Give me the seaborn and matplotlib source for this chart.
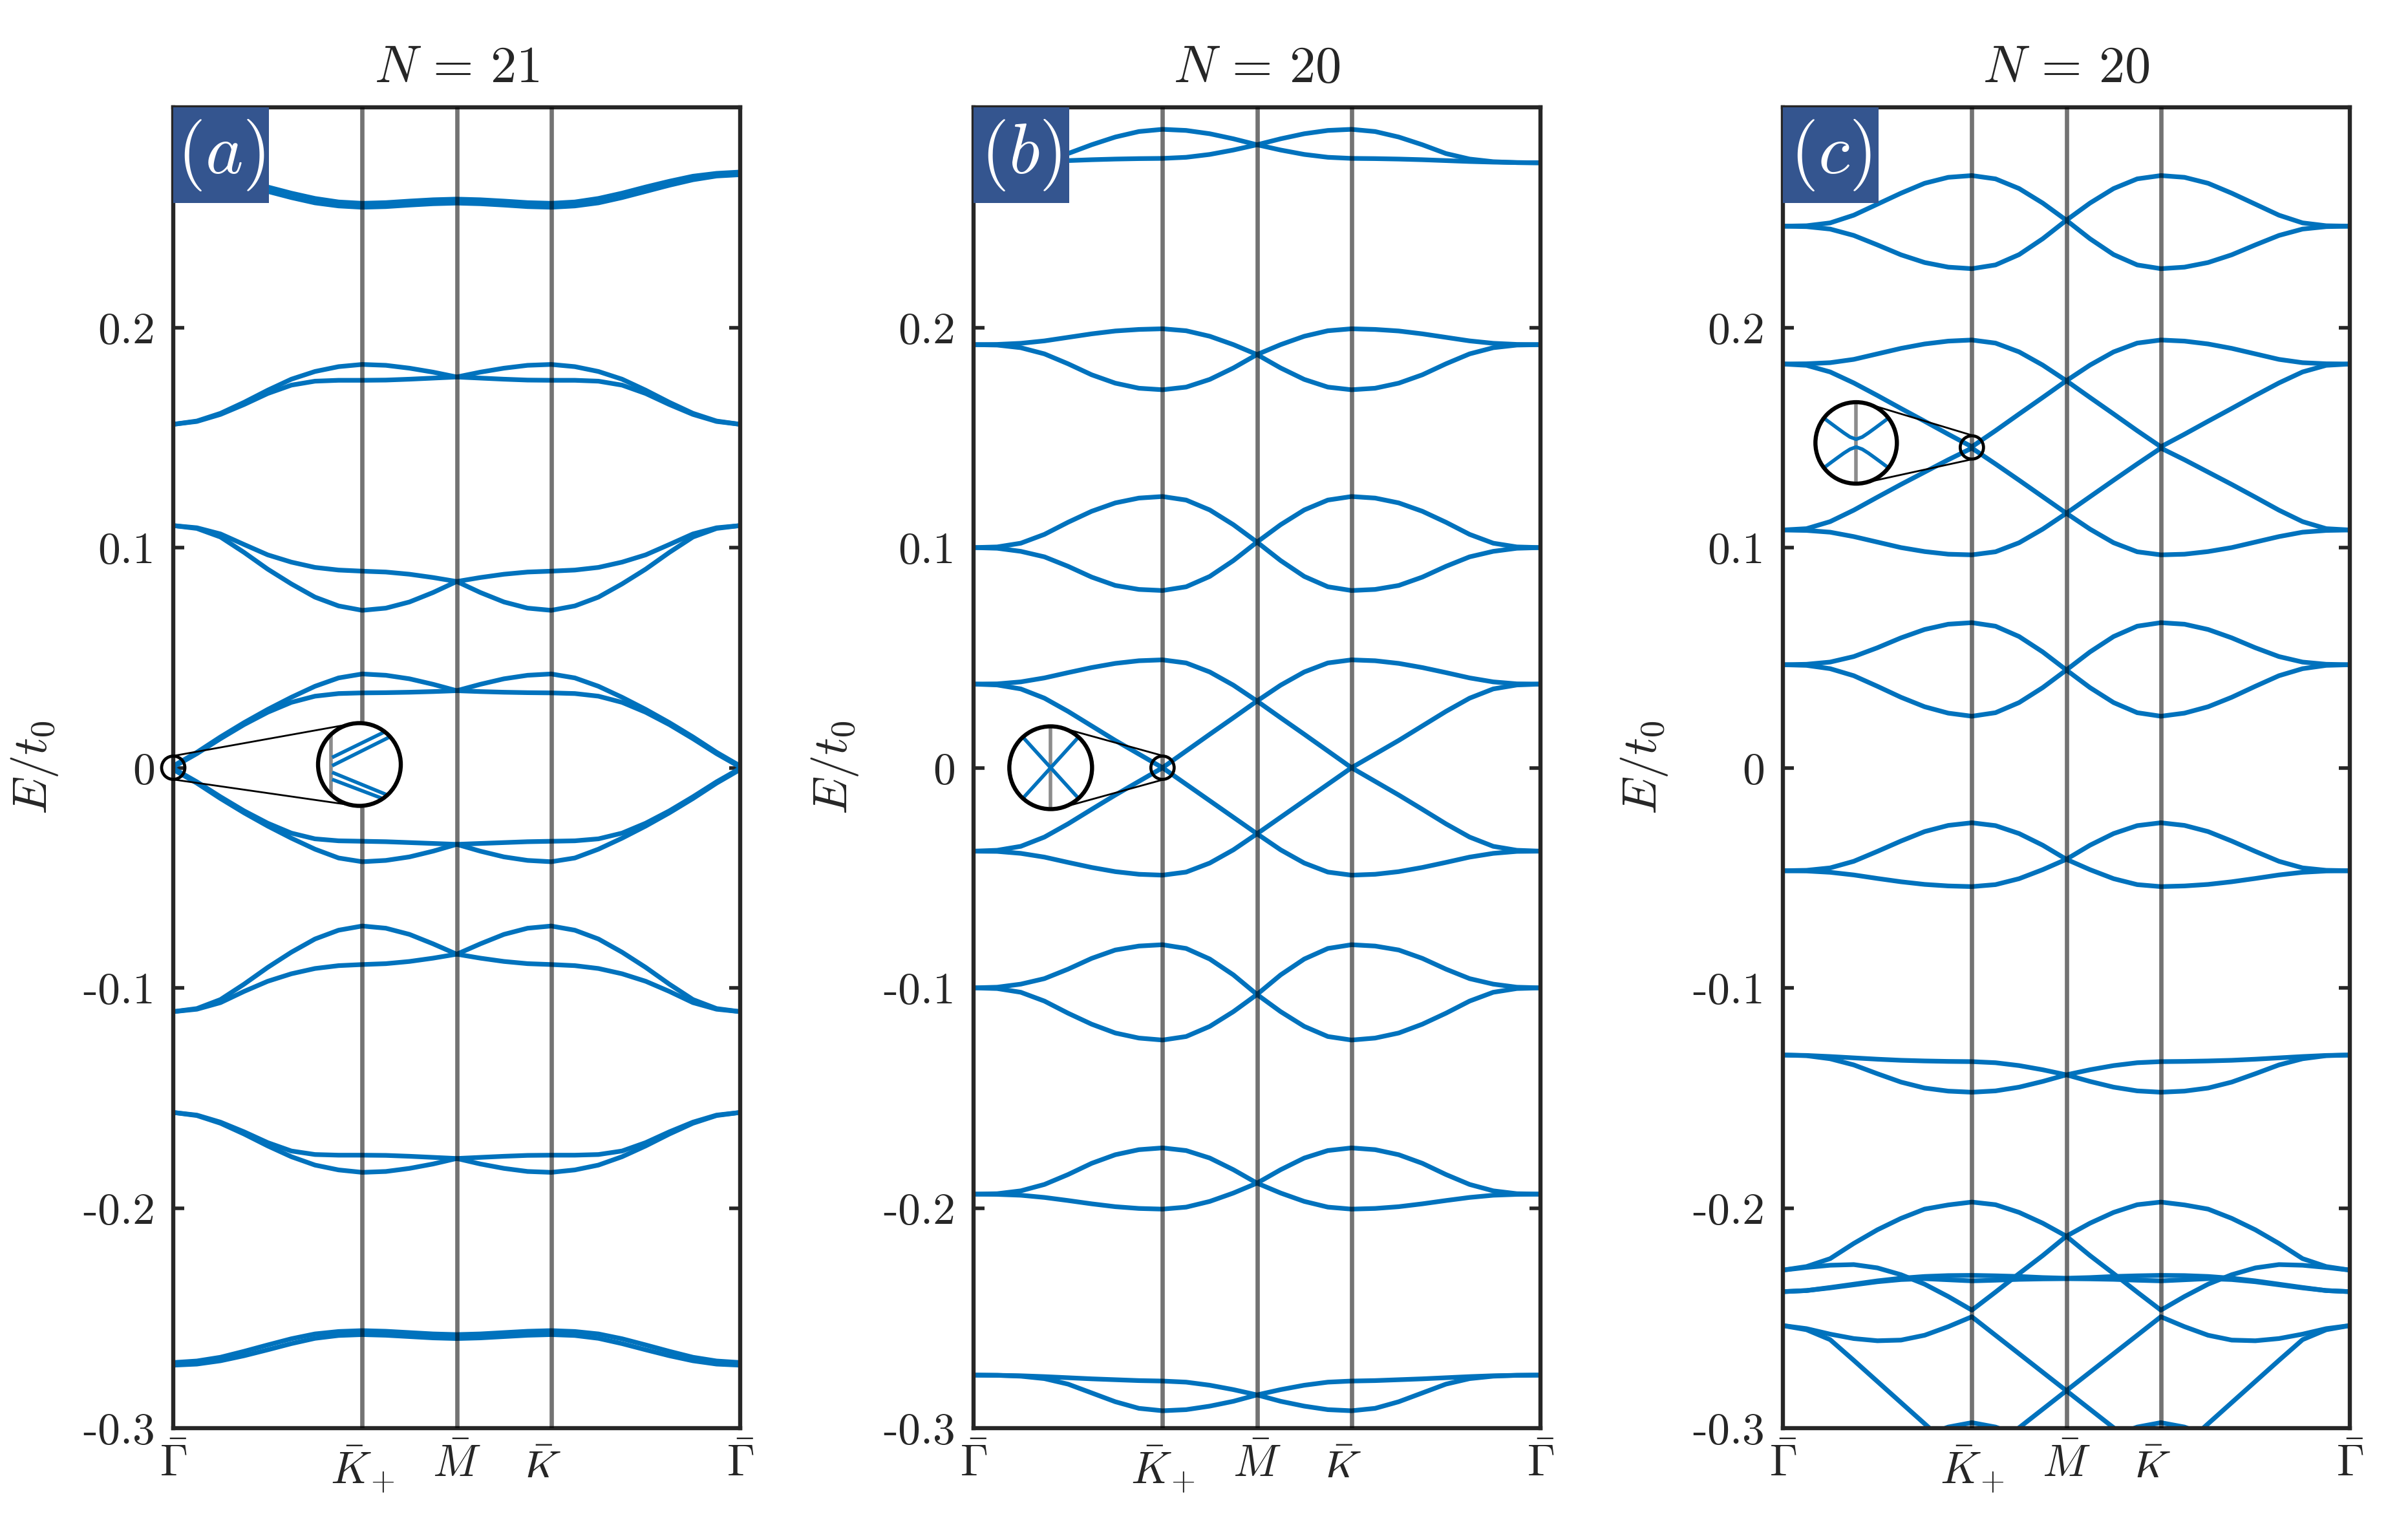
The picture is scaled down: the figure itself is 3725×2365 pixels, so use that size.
import numpy as np
import pandas as pd
import matplotlib
matplotlib.use("Agg")
import matplotlib.pyplot as plt
import seaborn as sns
from matplotlib.patches import Circle, Ellipse, Rectangle
from matplotlib.lines import Line2D

sns.set_style("white")
plt.rcParams["font.family"] = ["cmr10", "DejaVu Sans"]
plt.rcParams["mathtext.fontset"] = "cm"
plt.rcParams["axes.unicode_minus"] = True

# ---------------- data ----------------
# k-path sampling: Gamma (0) - K+ (1/3) - M (1/2) - K- (2/3) - Gamma (1)
K_PATH = np.linspace(0.0, 1.0, 25)
K_TICKS = [0.0, 1 / 3, 0.5, 2 / 3, 1.0]
K_LABELS = [r"$\bar{\Gamma}$", r"$\bar{K}_{+}$", r"$\bar{M}$", r"$\bar{K}_{-}$", r"$\bar{\Gamma}$"]
E_TICKS = [-0.3, -0.2, -0.1, 0.0, 0.1, 0.2]
E_LABELS = ["-0.3", "-0.2", "-0.1", "0", "0.1", "0.2"]
TITLES = [r"$N\,=\,21$", r"$N\,=\,20$", r"$N\,=\,20$"]
TAGS = ["$(a)$", "$(b)$", "$(c)$"]

# ---- panel (a), N = 21 ----
A01 = [0.2706, 0.2700, 0.2687, 0.2664, 0.2638, 0.2610, 0.2586, 0.2570, 0.2564, 0.2567, 0.2574, 0.2580, 0.2583, 0.2580, 0.2574, 0.2567, 0.2564, 0.2570, 0.2586, 0.2610, 0.2638, 0.2664, 0.2687, 0.2700, 0.2706]
A02 = [0.2694, 0.2688, 0.2671, 0.2646, 0.2618, 0.2590, 0.2566, 0.2552, 0.2546, 0.2549, 0.2556, 0.2562, 0.2565, 0.2562, 0.2556, 0.2549, 0.2546, 0.2552, 0.2566, 0.2590, 0.2618, 0.2646, 0.2671, 0.2688, 0.2694]
A03 = [0.1560, 0.1575, 0.1610, 0.1660, 0.1715, 0.1765, 0.1800, 0.1822, 0.1832, 0.1828, 0.1815, 0.1797, 0.1775, 0.1797, 0.1815, 0.1828, 0.1832, 0.1822, 0.1800, 0.1765, 0.1715, 0.1660, 0.1610, 0.1575, 0.1560]
A04 = [0.1560, 0.1573, 0.1605, 0.1650, 0.1700, 0.1738, 0.1756, 0.1760, 0.1760, 0.1761, 0.1765, 0.1770, 0.1775, 0.1770, 0.1765, 0.1761, 0.1760, 0.1760, 0.1756, 0.1738, 0.1700, 0.1650, 0.1605, 0.1573, 0.1560]
A05 = [0.1100, 0.1090, 0.1062, 0.1014, 0.0967, 0.0934, 0.0910, 0.0898, 0.0893, 0.0889, 0.0879, 0.0864, 0.0846, 0.0864, 0.0879, 0.0889, 0.0893, 0.0898, 0.0910, 0.0934, 0.0967, 0.1014, 0.1062, 0.1090, 0.1100]
A06 = [0.1100, 0.1087, 0.1048, 0.0978, 0.0902, 0.0835, 0.0775, 0.0735, 0.0715, 0.0725, 0.0753, 0.0796, 0.0846, 0.0796, 0.0753, 0.0725, 0.0715, 0.0735, 0.0775, 0.0835, 0.0902, 0.0978, 0.1048, 0.1087, 0.1100]
A07 = [0.0008, 0.0070, 0.0140, 0.0205, 0.0265, 0.0320, 0.0370, 0.0408, 0.0426, 0.0420, 0.0404, 0.0379, 0.0350, 0.0379, 0.0404, 0.0420, 0.0426, 0.0408, 0.0370, 0.0320, 0.0265, 0.0205, 0.0140, 0.0070, 0.0008]
A08 = [0.0003, 0.0064, 0.0132, 0.0196, 0.0252, 0.0297, 0.0325, 0.0337, 0.0340, 0.0341, 0.0343, 0.0346, 0.0350, 0.0346, 0.0343, 0.0341, 0.0340, 0.0337, 0.0325, 0.0297, 0.0252, 0.0196, 0.0132, 0.0064, 0.0003]
A09 = [-0.0003, -0.0064, -0.0132, -0.0196, -0.0252, -0.0297, -0.0323, -0.0332, -0.0334, -0.0336, -0.0340, -0.0344, -0.0348, -0.0344, -0.0340, -0.0336, -0.0334, -0.0332, -0.0323, -0.0297, -0.0252, -0.0196, -0.0132, -0.0064, -0.0003]
A10 = [-0.0008, -0.0070, -0.0140, -0.0205, -0.0265, -0.0320, -0.0370, -0.0410, -0.0427, -0.0421, -0.0405, -0.0379, -0.0348, -0.0379, -0.0405, -0.0421, -0.0427, -0.0410, -0.0370, -0.0320, -0.0265, -0.0205, -0.0140, -0.0070, -0.0008]
A11 = [-0.1108, -0.1094, -0.1053, -0.0983, -0.0907, -0.0838, -0.0778, -0.0738, -0.0719, -0.0729, -0.0757, -0.0800, -0.0847, -0.0800, -0.0757, -0.0729, -0.0719, -0.0738, -0.0778, -0.0838, -0.0907, -0.0983, -0.1053, -0.1094, -0.1108]
A12 = [-0.1108, -0.1097, -0.1067, -0.1016, -0.0970, -0.0936, -0.0912, -0.0899, -0.0894, -0.0890, -0.0880, -0.0865, -0.0847, -0.0865, -0.0880, -0.0890, -0.0894, -0.0899, -0.0912, -0.0936, -0.0970, -0.1016, -0.1067, -0.1097, -0.1108]
A13 = [-0.1566, -0.1578, -0.1610, -0.1654, -0.1703, -0.1741, -0.1757, -0.1760, -0.1760, -0.1761, -0.1765, -0.1770, -0.1775, -0.1770, -0.1765, -0.1761, -0.1760, -0.1760, -0.1757, -0.1741, -0.1703, -0.1654, -0.1610, -0.1578, -0.1566]
A14 = [-0.1566, -0.1580, -0.1615, -0.1664, -0.1718, -0.1767, -0.1805, -0.1827, -0.1838, -0.1834, -0.1820, -0.1800, -0.1775, -0.1800, -0.1820, -0.1834, -0.1838, -0.1827, -0.1805, -0.1767, -0.1718, -0.1664, -0.1615, -0.1580, -0.1566]
A15 = [-0.2702, -0.2695, -0.2678, -0.2651, -0.2622, -0.2594, -0.2572, -0.2561, -0.2557, -0.2560, -0.2566, -0.2572, -0.2575, -0.2572, -0.2566, -0.2560, -0.2557, -0.2561, -0.2572, -0.2594, -0.2622, -0.2651, -0.2678, -0.2695, -0.2702]
A16 = [-0.2714, -0.2709, -0.2694, -0.2671, -0.2644, -0.2616, -0.2592, -0.2579, -0.2575, -0.2578, -0.2584, -0.2590, -0.2593, -0.2590, -0.2584, -0.2578, -0.2575, -0.2579, -0.2592, -0.2616, -0.2644, -0.2671, -0.2694, -0.2709, -0.2714]

# ---- panel (b), N = 20 ----
B01 = [0.2748, 0.2749, 0.2753, 0.2765, 0.2790, 0.2830, 0.2865, 0.2890, 0.2900, 0.2895, 0.2880, 0.2857, 0.2830, 0.2857, 0.2880, 0.2895, 0.2900, 0.2890, 0.2865, 0.2830, 0.2790, 0.2765, 0.2753, 0.2749, 0.2748]
B02 = [0.2748, 0.2749, 0.2751, 0.2754, 0.2758, 0.2762, 0.2765, 0.2767, 0.2768, 0.2773, 0.2786, 0.2806, 0.2830, 0.2806, 0.2786, 0.2773, 0.2768, 0.2767, 0.2765, 0.2762, 0.2758, 0.2754, 0.2751, 0.2749, 0.2748]
B03 = [0.1922, 0.1923, 0.1928, 0.1939, 0.1955, 0.1971, 0.1984, 0.1991, 0.1994, 0.1985, 0.1960, 0.1922, 0.1877, 0.1922, 0.1960, 0.1985, 0.1994, 0.1991, 0.1984, 0.1971, 0.1955, 0.1939, 0.1928, 0.1923, 0.1922]
B04 = [0.1922, 0.1920, 0.1908, 0.1880, 0.1835, 0.1785, 0.1747, 0.1724, 0.1717, 0.1729, 0.1764, 0.1816, 0.1877, 0.1816, 0.1764, 0.1729, 0.1717, 0.1724, 0.1747, 0.1785, 0.1835, 0.1880, 0.1908, 0.1920, 0.1922]
B05 = [0.1000, 0.1003, 0.1020, 0.1060, 0.1115, 0.1165, 0.1203, 0.1225, 0.1232, 0.1216, 0.1171, 0.1104, 0.1025, 0.1104, 0.1171, 0.1216, 0.1232, 0.1225, 0.1203, 0.1165, 0.1115, 0.1060, 0.1020, 0.1003, 0.1000]
B06 = [0.1000, 0.0997, 0.0983, 0.0958, 0.0915, 0.0866, 0.0828, 0.0810, 0.0805, 0.0822, 0.0869, 0.0941, 0.1025, 0.0941, 0.0869, 0.0822, 0.0805, 0.0810, 0.0828, 0.0866, 0.0915, 0.0958, 0.0983, 0.0997, 0.1000]
B07 = [0.0380, 0.0381, 0.0390, 0.0408, 0.0432, 0.0455, 0.0474, 0.0486, 0.0490, 0.0476, 0.0435, 0.0375, 0.0303, 0.0375, 0.0435, 0.0476, 0.0490, 0.0486, 0.0474, 0.0455, 0.0432, 0.0408, 0.0390, 0.0381, 0.0380]
B08 = [0.0380, 0.0376, 0.0358, 0.0316, 0.0256, 0.0190, 0.0124, 0.0062, 0.0000, 0.0076, 0.0152, 0.0227, 0.0303, 0.0227, 0.0152, 0.0076, 0.0000, 0.0062, 0.0124, 0.0190, 0.0256, 0.0316, 0.0358, 0.0376, 0.0380]
B09 = [-0.0379, -0.0375, -0.0357, -0.0315, -0.0255, -0.0189, -0.0124, -0.0062, 0.0000, -0.0075, -0.0150, -0.0225, -0.0300, -0.0225, -0.0150, -0.0075, 0.0000, -0.0062, -0.0124, -0.0189, -0.0255, -0.0315, -0.0357, -0.0375, -0.0379]
B10 = [-0.0379, -0.0380, -0.0389, -0.0406, -0.0430, -0.0453, -0.0472, -0.0484, -0.0488, -0.0474, -0.0433, -0.0373, -0.0300, -0.0373, -0.0433, -0.0474, -0.0488, -0.0484, -0.0472, -0.0453, -0.0430, -0.0406, -0.0389, -0.0380, -0.0379]
B11 = [-0.1000, -0.0997, -0.0983, -0.0958, -0.0915, -0.0866, -0.0828, -0.0810, -0.0804, -0.0821, -0.0869, -0.0941, -0.1030, -0.0941, -0.0869, -0.0821, -0.0804, -0.0810, -0.0828, -0.0866, -0.0915, -0.0958, -0.0983, -0.0997, -0.1000]
B12 = [-0.1000, -0.1003, -0.1020, -0.1060, -0.1115, -0.1165, -0.1205, -0.1228, -0.1237, -0.1221, -0.1175, -0.1108, -0.1030, -0.1108, -0.1175, -0.1221, -0.1237, -0.1228, -0.1205, -0.1165, -0.1115, -0.1060, -0.1020, -0.1003, -0.1000]
B13 = [-0.1937, -0.1935, -0.1922, -0.1893, -0.1848, -0.1797, -0.1758, -0.1735, -0.1727, -0.1739, -0.1773, -0.1826, -0.1887, -0.1826, -0.1773, -0.1739, -0.1727, -0.1735, -0.1758, -0.1797, -0.1848, -0.1893, -0.1922, -0.1935, -0.1937]
B14 = [-0.1937, -0.1938, -0.1942, -0.1952, -0.1966, -0.1981, -0.1994, -0.2002, -0.2005, -0.1996, -0.1970, -0.1932, -0.1887, -0.1932, -0.1970, -0.1996, -0.2005, -0.2002, -0.1994, -0.1981, -0.1966, -0.1952, -0.1942, -0.1938, -0.1937]
B15 = [-0.2759, -0.2760, -0.2762, -0.2766, -0.2771, -0.2776, -0.2780, -0.2784, -0.2786, -0.2791, -0.2805, -0.2825, -0.2849, -0.2825, -0.2805, -0.2791, -0.2786, -0.2784, -0.2780, -0.2776, -0.2771, -0.2766, -0.2762, -0.2760, -0.2759]
B16 = [-0.2759, -0.2760, -0.2764, -0.2775, -0.2800, -0.2840, -0.2880, -0.2910, -0.2921, -0.2916, -0.2900, -0.2878, -0.2849, -0.2878, -0.2900, -0.2916, -0.2921, -0.2910, -0.2880, -0.2840, -0.2800, -0.2775, -0.2764, -0.2760, -0.2759]

# ---- panel (c), N = 20 ----
C01 = [0.2460, 0.2462, 0.2475, 0.2510, 0.2560, 0.2610, 0.2655, 0.2682, 0.2690, 0.2675, 0.2631, 0.2565, 0.2487, 0.2565, 0.2631, 0.2675, 0.2690, 0.2682, 0.2655, 0.2610, 0.2560, 0.2510, 0.2475, 0.2462, 0.2460]
C02 = [0.2460, 0.2458, 0.2447, 0.2418, 0.2375, 0.2330, 0.2295, 0.2274, 0.2267, 0.2284, 0.2331, 0.2403, 0.2487, 0.2403, 0.2331, 0.2284, 0.2267, 0.2274, 0.2295, 0.2330, 0.2375, 0.2418, 0.2447, 0.2458, 0.2460]
C03 = [0.1834, 0.1835, 0.1840, 0.1855, 0.1880, 0.1905, 0.1925, 0.1938, 0.1943, 0.1929, 0.1889, 0.1829, 0.1758, 0.1829, 0.1889, 0.1929, 0.1943, 0.1938, 0.1925, 0.1905, 0.1880, 0.1855, 0.1840, 0.1835, 0.1834]
C04 = [0.1834, 0.1828, 0.1798, 0.1748, 0.1691, 0.1632, 0.1574, 0.1515, 0.1458, 0.1531, 0.1607, 0.1682, 0.1758, 0.1682, 0.1607, 0.1531, 0.1458, 0.1515, 0.1574, 0.1632, 0.1691, 0.1748, 0.1798, 0.1828, 0.1834]
C05 = [0.1080, 0.1086, 0.1118, 0.1170, 0.1229, 0.1287, 0.1343, 0.1399, 0.1452, 0.1380, 0.1306, 0.1231, 0.1156, 0.1231, 0.1306, 0.1380, 0.1452, 0.1399, 0.1343, 0.1287, 0.1229, 0.1170, 0.1118, 0.1086, 0.1080]
C06 = [0.1080, 0.1078, 0.1070, 0.1050, 0.1025, 0.1000, 0.0982, 0.0970, 0.0967, 0.0981, 0.1022, 0.1084, 0.1156, 0.1084, 0.1022, 0.0981, 0.0967, 0.0970, 0.0982, 0.1000, 0.1025, 0.1050, 0.1070, 0.1078, 0.1080]
C07 = [0.0468, 0.0470, 0.0480, 0.0505, 0.0545, 0.0590, 0.0628, 0.0652, 0.0659, 0.0643, 0.0596, 0.0526, 0.0444, 0.0526, 0.0596, 0.0643, 0.0659, 0.0652, 0.0628, 0.0590, 0.0545, 0.0505, 0.0480, 0.0470, 0.0468]
C08 = [0.0468, 0.0465, 0.0450, 0.0418, 0.0370, 0.0320, 0.0277, 0.0248, 0.0234, 0.0250, 0.0296, 0.0364, 0.0444, 0.0364, 0.0296, 0.0250, 0.0234, 0.0248, 0.0277, 0.0320, 0.0370, 0.0418, 0.0450, 0.0465, 0.0468]
C09 = [-0.0468, -0.0466, -0.0455, -0.0425, -0.0380, -0.0333, -0.0290, -0.0262, -0.0250, -0.0263, -0.0299, -0.0352, -0.0416, -0.0352, -0.0299, -0.0263, -0.0250, -0.0262, -0.0290, -0.0333, -0.0380, -0.0425, -0.0455, -0.0466, -0.0468]
C10 = [-0.0468, -0.0469, -0.0475, -0.0487, -0.0503, -0.0518, -0.0530, -0.0537, -0.0540, -0.0531, -0.0504, -0.0463, -0.0416, -0.0463, -0.0504, -0.0531, -0.0540, -0.0537, -0.0530, -0.0518, -0.0503, -0.0487, -0.0475, -0.0469, -0.0468]
C11 = [-0.1305, -0.1307, -0.1312, -0.1318, -0.1324, -0.1329, -0.1332, -0.1334, -0.1335, -0.1340, -0.1353, -0.1372, -0.1395, -0.1372, -0.1353, -0.1340, -0.1335, -0.1334, -0.1332, -0.1329, -0.1324, -0.1318, -0.1312, -0.1307, -0.1305]
C12 = [-0.1305, -0.1308, -0.1322, -0.1350, -0.1390, -0.1428, -0.1455, -0.1469, -0.1474, -0.1468, -0.1451, -0.1425, -0.1395, -0.1425, -0.1451, -0.1468, -0.1474, -0.1469, -0.1455, -0.1428, -0.1390, -0.1350, -0.1322, -0.1308, -0.1305]
C13 = [-0.2282, -0.2266, -0.2230, -0.2161, -0.2099, -0.2047, -0.2005, -0.1986, -0.1973, -0.1985, -0.2020, -0.2069, -0.2128, -0.2069, -0.2020, -0.1985, -0.1973, -0.1986, -0.2005, -0.2047, -0.2099, -0.2161, -0.2230, -0.2266, -0.2282]
C14 = [-0.2282, -0.2270, -0.2260, -0.2257, -0.2272, -0.2303, -0.2346, -0.2402, -0.2464, -0.2382, -0.2298, -0.2216, -0.2128, -0.2216, -0.2298, -0.2382, -0.2464, -0.2402, -0.2346, -0.2303, -0.2272, -0.2257, -0.2260, -0.2270, -0.2282]
C15 = [-0.2380, -0.2375, -0.2361, -0.2346, -0.2331, -0.2319, -0.2311, -0.2307, -0.2306, -0.2308, -0.2311, -0.2316, -0.2319, -0.2316, -0.2311, -0.2308, -0.2306, -0.2307, -0.2311, -0.2319, -0.2331, -0.2346, -0.2361, -0.2375, -0.2380]
C16 = [-0.2380, -0.2375, -0.2363, -0.2349, -0.2335, -0.2325, -0.2321, -0.2326, -0.2331, -0.2328, -0.2324, -0.2322, -0.2321, -0.2322, -0.2324, -0.2328, -0.2331, -0.2326, -0.2321, -0.2325, -0.2335, -0.2349, -0.2363, -0.2375, -0.2380]
C17 = [-0.2534, -0.2548, -0.2573, -0.2593, -0.2603, -0.2600, -0.2578, -0.2539, -0.2494, -0.2578, -0.2662, -0.2746, -0.2830, -0.2746, -0.2662, -0.2578, -0.2494, -0.2539, -0.2578, -0.2600, -0.2603, -0.2593, -0.2573, -0.2548, -0.2534]
C18 = [-0.2534, -0.2553, -0.2598, -0.2692, -0.2788, -0.2884, -0.2980, -0.3077, -0.3170, -0.3260, -0.3350, -0.3400, -0.3450, -0.3400, -0.3350, -0.3260, -0.3170, -0.3077, -0.2980, -0.2884, -0.2788, -0.2692, -0.2598, -0.2553, -0.2534]
C19 = [-0.3300, -0.3300, -0.3300, -0.3250, -0.3180, -0.3110, -0.3035, -0.2995, -0.2975, -0.2995, -0.3035, -0.3110, -0.3180, -0.3110, -0.3035, -0.2995, -0.2975, -0.2995, -0.3035, -0.3110, -0.3180, -0.3250, -0.3300, -0.3300, -0.3300]
C20 = [-0.3400, -0.3400, -0.3400, -0.3400, -0.3400, -0.3400, -0.3334, -0.3250, -0.3166, -0.3082, -0.2998, -0.2914, -0.2830, -0.2914, -0.2998, -0.3082, -0.3166, -0.3250, -0.3334, -0.3400, -0.3400, -0.3400, -0.3400, -0.3400, -0.3400]

# ---- magnifier insets (normalised circle coordinates) ----
MAG_POINTS = [(0.0, 0.0), (1 / 3, 0.0), (1 / 3, 0.1455)]
MAG_A_BAR = -0.68
MAG_A_X = [[-0.66, 1.0], [-0.66, 1.0], [-0.66, 1.0], [-0.66, 1.0]]
MAG_A_Y = [[0.17, 0.98], [-0.03, 0.80], [-0.19, -0.87], [-0.36, -0.99]]
MAG_B_BAR = 0.0
MAG_B_X = [[-1.0, 1.0], [-1.0, 1.0]]
MAG_B_Y = [[1.1, -1.1], [-1.1, 1.1]]
MAG_C_BAR = 0.0
MAG_C_XC = [-0.9, -0.75, -0.6, -0.45, -0.3, -0.15, 0.0, 0.15, 0.3, 0.45, 0.6, 0.75, 0.9]
MAG_C_UP = [0.690, 0.577, 0.465, 0.354, 0.245, 0.145, 0.090, 0.145, 0.245, 0.354, 0.465, 0.577, 0.690]
MAG_C_DN = [-0.690, -0.580, -0.468, -0.358, -0.250, -0.155, -0.100, -0.155, -0.250, -0.358, -0.468, -0.580, -0.690]

PANEL_BANDS = [
    [A01, A02, A03, A04, A05, A06, A07, A08, A09, A10, A11, A12, A13, A14, A15, A16],
    [B01, B02, B03, B04, B05, B06, B07, B08, B09, B10, B11, B12, B13, B14, B15, B16],
    [C01, C02, C03, C04, C05, C06, C07, C08, C09, C10, C11, C12, C13, C14, C15, C16,
     C17, C18, C19, C20],
]

# ---------------- style / layout ----------------
BLUE = "#0072BD"
SPINE = "#262626"
TAGBOX = "#34558F"
W_PX, H_PX, DPI = 3725, 2365, 200
fig = plt.figure(figsize=(W_PX / DPI, H_PX / DPI), dpi=DPI)
fig.patch.set_facecolor("white")

LEFTS = [268, 1506, 2758]
AX_W, AX_TOP, AX_BOT = 877, 166, 2209
BAND_LW = 2.6


def magnifier(ax, point, offset, r_small, r_big, bar_x, xs_list, ys_list):
    W, H = fig.bbox.width, fig.bbox.height
    cx, cy = ax.transData.transform(point)
    bx, by = cx + offset[0], cy + offset[1]
    P = np.array([cx, cy])
    Q = np.array([bx, by])
    d = np.linalg.norm(Q - P)
    u = (Q - P) / d
    perp = np.array([-u[1], u[0]])
    c = (r_small - r_big) / d
    s = np.sqrt(1 - c * c)
    for sign in (1, -1):
        n = u * c + sign * perp * s
        p1 = P + r_small * n
        p2 = Q + r_big * n
        fig.add_artist(Line2D([p1[0] / W, p2[0] / W], [p1[1] / H, p2[1] / H],
                              transform=fig.transFigure, color="black", lw=1.0, zorder=4))
    fig.add_artist(Ellipse((cx / W, cy / H), 2 * r_small / W, 2 * r_small / H,
                           transform=fig.transFigure, fill=False, ec="black", lw=1.7, zorder=4))
    pad = 1.08
    iax = fig.add_axes([(bx - pad * r_big) / W, (by - pad * r_big) / H,
                        2 * pad * r_big / W, 2 * pad * r_big / H])
    iax.set_zorder(10)
    iax.set_xlim(-pad, pad)
    iax.set_ylim(-pad, pad)
    iax.axis("off")
    iax.patch.set_alpha(0)
    bg = Circle((0, 0), 1.0, fc="white", ec="none", zorder=1)
    iax.add_patch(bg)
    bar = iax.plot([bar_x, bar_x], [-1.2, 1.2], color="#8c8c8c", lw=2.0, zorder=2)[0]
    bar.set_clip_path(bg)
    for xs, ys in zip(xs_list, ys_list):
        ln = iax.plot(xs, ys, color=BLUE, lw=2.0, zorder=3, solid_capstyle="butt")[0]
        ln.set_clip_path(bg)
    iax.add_patch(Circle((0, 0), 1.0, fill=False, ec="black", lw=2.3, zorder=5))


axes = []
for p in range(3):
    rect = [LEFTS[p] / W_PX, 1 - AX_BOT / H_PX, AX_W / W_PX, (AX_BOT - AX_TOP) / H_PX]
    ax = fig.add_axes(rect)
    axes.append(ax)
    rows = []
    for b, vals in enumerate(PANEL_BANDS[p]):
        for k, e in zip(K_PATH, vals):
            rows.append({"k": k, "E": e, "band": b})
    df = pd.DataFrame(rows)
    sns.lineplot(data=df, x="k", y="E", units="band", estimator=None, sort=False,
                 color=BLUE, lw=BAND_LW, ax=ax, legend=False, zorder=2)
    for xv in K_TICKS[1:4]:
        ax.axvline(xv, color="black", alpha=0.55, lw=2.4, zorder=3)
    ax.set_xlim(0, 1)
    ax.set_ylim(-0.3, 0.3)
    ax.set_xticks(K_TICKS)
    ax.set_xticklabels(K_LABELS)
    ax.set_yticks(E_TICKS)
    ax.set_yticklabels(E_LABELS)
    ax.set_xlabel("")
    ax.set_ylabel("$E/t_0$", fontsize=27)
    ax.yaxis.set_label_coords(-0.20, 0.5)
    ax.set_title(TITLES[p], fontsize=29, pad=14)
    ax.tick_params(axis="y", which="both", direction="in", left=True, right=True,
                   length=6, width=2.0, color=SPINE, labelsize=25, pad=10)
    ax.tick_params(axis="x", length=0, labelsize=25, pad=9)
    for sp in ax.spines.values():
        sp.set_linewidth(2.3)
        sp.set_color(SPINE)
        sp.set_visible(True)
    bw, bh = 148 / AX_W, 148 / (AX_BOT - AX_TOP)
    ax.add_patch(Rectangle((0, 1 - bh), bw, bh, transform=ax.transAxes, fc=TAGBOX,
                           ec="none", zorder=5, clip_on=False))
    ax.text(bw / 2, 1 - bh / 2, TAGS[p], transform=ax.transAxes, color="white",
            fontsize=40, ha="center", va="center", zorder=6)

magnifier(axes[0], MAG_POINTS[0], (288, 5), 18, 64, MAG_A_BAR, MAG_A_X, MAG_A_Y)
magnifier(axes[1], MAG_POINTS[1], (-173, 0), 18, 64, MAG_B_BAR, MAG_B_X, MAG_B_Y)
magnifier(axes[2], MAG_POINTS[2], (-179, 7), 18, 63, MAG_C_BAR,
          [MAG_C_XC, MAG_C_XC], [MAG_C_UP, MAG_C_DN])

fig.savefig("out.png", dpi=DPI, facecolor="white")
